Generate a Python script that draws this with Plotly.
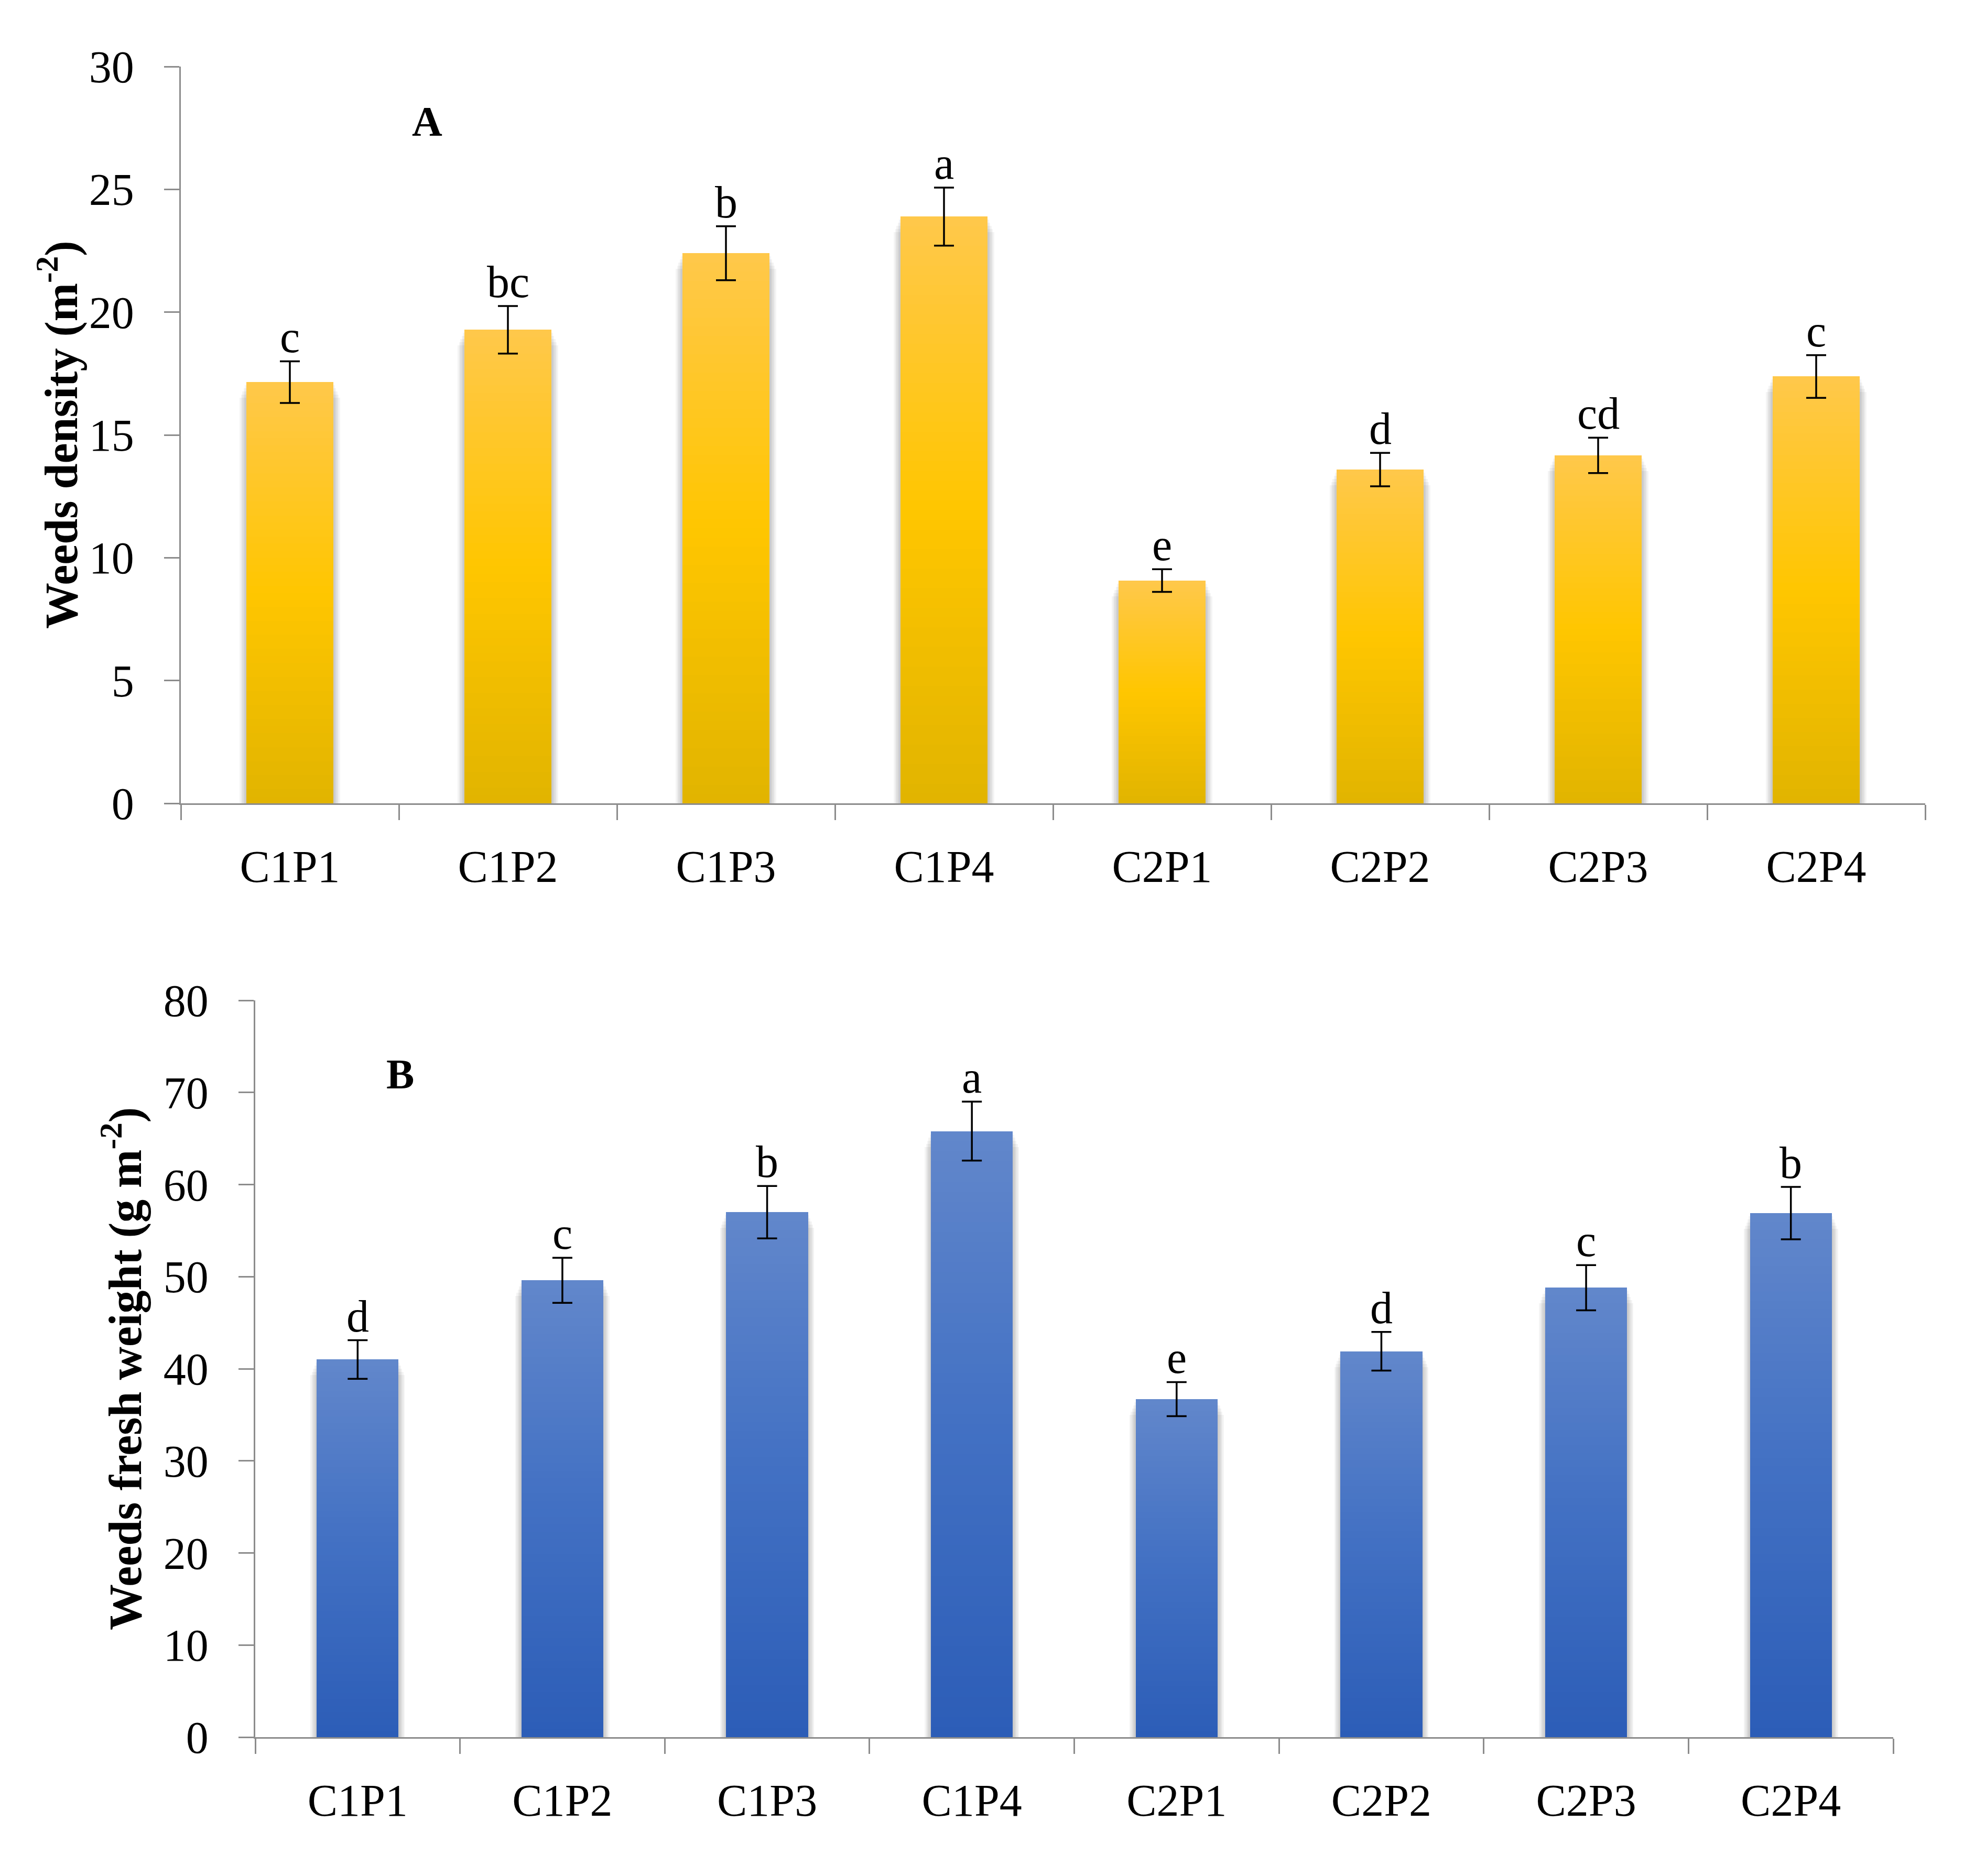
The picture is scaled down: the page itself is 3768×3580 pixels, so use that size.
import plotly.graph_objects as go

# ---------------- data ----------------
categories = ["C1P1", "C1P2", "C1P3", "C1P4", "C2P1", "C2P2", "C2P3", "C2P4"]

density = [17.15, 19.28, 22.4, 23.89, 9.07, 13.59, 14.17, 17.38]
density_err = [0.85, 0.97, 1.1, 1.18, 0.46, 0.68, 0.72, 0.87]
density_letters = ["c", "bc", "b", "a", "e", "d", "cd", "c"]

fresh = [41.0, 49.6, 57.0, 65.8, 36.7, 41.9, 48.8, 56.9]
fresh_err = [2.1, 2.45, 2.85, 3.2, 1.85, 2.1, 2.45, 2.85]
fresh_letters = ["d", "c", "b", "a", "e", "d", "c", "b"]

density_ticks = [0, 5, 10, 15, 20, 25, 30]
fresh_ticks = [0, 10, 20, 30, 40, 50, 60, 70, 80]

# ---------------- style ----------------
W, H = 3768, 3580
FONT = "Palatino Linotype, Book Antiqua, Palatino, Liberation Serif, serif"
AXIS_COL = "#8C8C8C"
BAR_W = 0.4

yellow_stops = [(0.0, "#E1B400"), (0.5, "#FFC600"), (1.0, "#FFC84B")]
blue_stops = [(0.0, "#2C5DB7"), (0.55, "#4472C4"), (1.0, "#6287CB")]


def hex2rgb(h):
    h = h.lstrip("#")
    return tuple(int(h[i:i + 2], 16) for i in (0, 2, 4))


def grad(stops, t):
    t = max(0.0, min(1.0, t))
    for (t0, c0), (t1, c1) in zip(stops[:-1], stops[1:]):
        if t0 <= t <= t1:
            f = (t - t0) / (t1 - t0) if t1 > t0 else 0
            a, b = hex2rgb(c0), hex2rgb(c1)
            r = [round(a[i] + (b[i] - a[i]) * f) for i in range(3)]
            return "rgb(%d,%d,%d)" % tuple(r)
    return stops[-1][1]


fig = go.Figure()


def add_panel(xa, ya, values, errs, letters, stops, px_per_unit):
    xr = "x" if xa == "xaxis" else "x2"
    yr = "y" if ya == "yaxis" else "y2"
    # soft shadow
    for j in range(1, 6):
        fig.add_trace(go.Bar(
            x=categories, y=[v - j * 6 / px_per_unit for v in values],
            width=BAR_W + 0.012 * j, xaxis=xr, yaxis=yr,
            marker=dict(color="rgba(0,0,0,0.045)", line=dict(width=0)),
            hoverinfo="skip", showlegend=False))
    # gradient bars (tallest first, shorter ones cover the lower part)
    N = 60
    for k in range(N):
        frac = (N - k) / N
        fig.add_trace(go.Bar(
            x=categories, y=[v * frac for v in values], width=BAR_W,
            xaxis=xr, yaxis=yr,
            marker=dict(color=grad(stops, frac - 0.5 / N), line=dict(width=0)),
            hoverinfo="skip", showlegend=False))
    # error bars
    fig.add_trace(go.Scatter(
        x=categories, y=values, mode="markers", xaxis=xr, yaxis=yr,
        marker=dict(size=2, color="rgba(0,0,0,0)"),
        error_y=dict(type="data", array=errs, color="black",
                     thickness=3.5, width=19),
        hoverinfo="skip", showlegend=False))
    # significance letters
    for c, v, e, t in zip(categories, values, errs, letters):
        fig.add_annotation(x=c, y=v + e, xref=xr, yref=yr, text=t,
                           showarrow=False, xanchor="center",
                           yanchor="bottom", yshift=-4,
                           font=dict(family=FONT, size=86, color="black"))


# panel geometry (pixels in the 3768x3580 canvas)
top = dict(x0=345, x1=3673, y0=127, y1=1533)
bot = dict(x0=487, x1=3612, y0=1909, y1=3315)

add_panel("xaxis", "yaxis", density, density_err, density_letters,
          yellow_stops, (top["y1"] - top["y0"]) / 30)
add_panel("xaxis2", "yaxis2", fresh, fresh_err, fresh_letters,
          blue_stops, (bot["y1"] - bot["y0"]) / 80)


def xdom(g):
    return [g["x0"] / W, g["x1"] / W]


def ydom(g):
    return [1 - g["y1"] / H, 1 - g["y0"] / H]


xcommon = dict(type="category", range=[-0.5, 7.5], showline=True,
               linecolor=AXIS_COL, linewidth=3, ticks="outside", ticklen=29,
               tickwidth=3, tickcolor=AXIS_COL, tickson="boundaries",
               showgrid=False, zeroline=False, ticklabelstandoff=44,
               automargin=False,
               tickfont=dict(family=FONT, size=86, color="black"))
ycommon = dict(showline=True, linecolor=AXIS_COL, linewidth=3,
               ticks="outside", ticklen=29, tickwidth=3, tickcolor=AXIS_COL,
               showgrid=False, zeroline=False, ticklabelstandoff=40,
               automargin=False,
               tickfont=dict(family=FONT, size=86, color="black"))

fig.update_layout(
    width=W, height=H, barmode="overlay", bargap=0,
    paper_bgcolor="white", plot_bgcolor="white",
    margin=dict(l=0, r=0, t=0, b=0, autoexpand=False),
    xaxis=dict(domain=xdom(top), anchor="y", **xcommon),
    yaxis=dict(domain=ydom(top), anchor="x", range=[0, 30],
               tickvals=density_ticks, **ycommon),
    xaxis2=dict(domain=xdom(bot), anchor="y2", **xcommon),
    yaxis2=dict(domain=ydom(bot), anchor="x2", range=[0, 80],
                tickvals=fresh_ticks, **ycommon),
)

# panel letters
fig.add_annotation(x=815 / W, y=1 - 232 / H, xref="paper", yref="paper",
                   text="<b>A</b>", showarrow=False,
                   xanchor="center", yanchor="middle",
                   font=dict(family=FONT, size=80, color="black"))
fig.add_annotation(x=763 / W, y=1 - 2050 / H, xref="paper", yref="paper",
                   text="<b>B</b>", showarrow=False,
                   xanchor="center", yanchor="middle",
                   font=dict(family=FONT, size=80, color="black"))

# y-axis titles
fig.add_annotation(x=110 / W, y=1 - (top["y0"] + top["y1"]) / 2 / H,
                   xref="paper", yref="paper", textangle=-90,
                   xanchor="center", yanchor="middle",
                   text="<b>Weeds density (m<sup>-2</sup>)</b>",
                   showarrow=False,
                   font=dict(family=FONT, size=88, color="black"))
fig.add_annotation(x=232 / W, y=1 - (bot["y0"] + bot["y1"]) / 2 / H,
                   xref="paper", yref="paper", textangle=-90,
                   xanchor="center", yanchor="middle",
                   text="<b>Weeds fresh weight (g m<sup>-2</sup>)</b>",
                   showarrow=False,
                   font=dict(family=FONT, size=88, color="black"))

fig.write_html("out.html",
               config={"displayModeBar": False},
               post_script="document.body.style.margin='0';")
